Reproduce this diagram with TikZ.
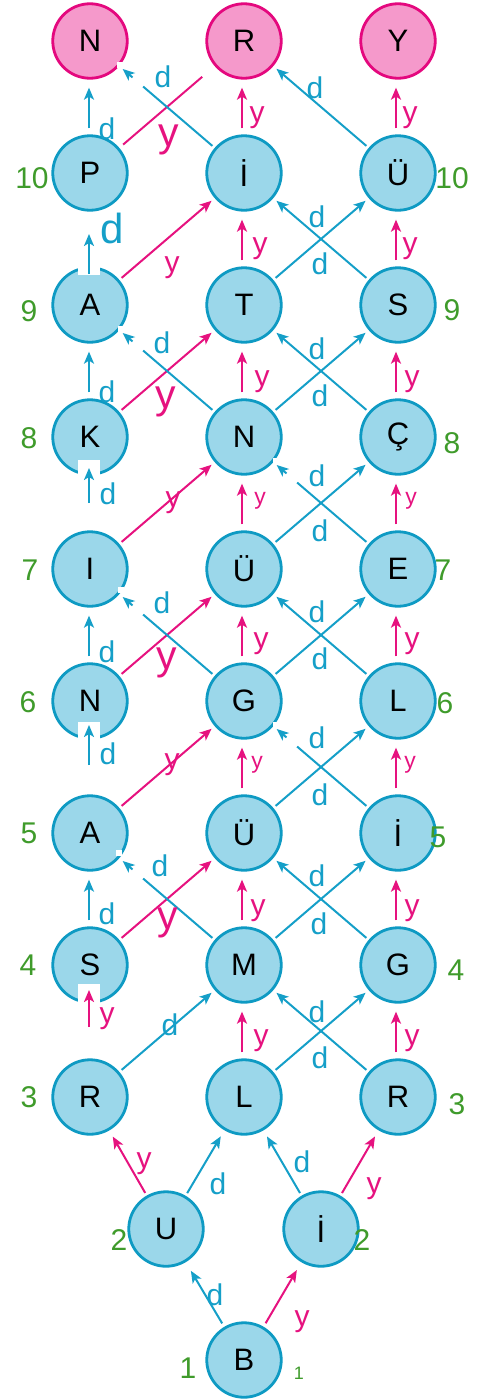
\documentclass[tikz,border=0pt]{standalone}
\usepackage{fontspec}
\setmainfont{Liberation Sans}
\usetikzlibrary{arrows.meta,calc}
\definecolor{nfill}{HTML}{9BD7EA}
\definecolor{nbord}{HTML}{0E9AC3}
\definecolor{pfill}{HTML}{F599CB}
\definecolor{pbord}{HTML}{E4087E}
\definecolor{barc}{HTML}{159FC8}
\definecolor{parc}{HTML}{E6127F}
\definecolor{grn}{HTML}{3F9B2B}
\begin{document}
\begin{tikzpicture}[x=1pt,y=-1pt,
 bnode/.style={circle, minimum size=74.5pt, inner sep=0pt, line width=2.8pt, draw=nbord, fill=nfill, font=\fontsize{31}{31}\selectfont},
 pnode/.style={bnode, draw=pbord, fill=pfill},
 barr/.style={draw=barc, line width=2pt, -{Stealth[length=12pt,width=10pt,inset=3pt]}},
 parr/.style={barr, draw=parc},
 bline/.style={draw=barc, line width=2pt},
 pline/.style={draw=parc, line width=2pt},
 vert/.style={shorten <=6pt, shorten >=8pt},
 diag/.style={shorten <=3pt, shorten >=4pt},
 lab/.style={inner sep=0pt, font=\fontsize{30}{30}\selectfont},
 labL/.style={inner sep=0pt, font=\fontsize{41}{41}\selectfont},
 labS/.style={inner sep=0pt, font=\fontsize{23}{23}\selectfont},
 dl/.style={lab, text=barc},
 yl/.style={lab, text=parc},
 num/.style={inner sep=0pt, text=grn, font=\fontsize{30}{30}\selectfont},
 notch/.style={fill=white, draw=none}
]
\useasboundingbox (0,0) rectangle (478,1400);
% nodes
\node[pnode] (L0) at (90,41) {N};
\node[pnode] (M0) at (244,41) {R};
\node[pnode] (R0) at (398,41) {Y};
\node[bnode] (L10) at (90,173) {P};
\node[bnode] (M10) at (244,173) {İ};
\node[bnode] (R10) at (398,173) {Ü};
\node[bnode] (L9) at (90,305) {A};
\node[bnode] (M9) at (244,305) {T};
\node[bnode] (R9) at (398,305) {S};
\node[bnode] (L8) at (90,437) {K};
\node[bnode] (M8) at (244,437) {N};
\node[bnode] (R8) at (398,437) {Ç};
\node[bnode] (L7) at (90,569) {I};
\node[bnode] (M7) at (244,569) {Ü};
\node[bnode] (R7) at (398,569) {E};
\node[bnode] (L6) at (90,701) {N};
\node[bnode] (M6) at (244,701) {G};
\node[bnode] (R6) at (398,701) {L};
\node[bnode] (L5) at (90,833) {A};
\node[bnode] (M5) at (244,833) {Ü};
\node[bnode] (R5) at (398,833) {İ};
\node[bnode] (L4) at (90,965) {S};
\node[bnode] (M4) at (244,965) {M};
\node[bnode] (R4) at (398,965) {G};
\node[bnode] (L3) at (90,1097) {R};
\node[bnode] (M3) at (244,1097) {L};
\node[bnode] (R3) at (398,1097) {R};
\node[bnode] (U2) at (166,1229) {U};
\node[bnode] (I2) at (321,1229) {İ};
\node[bnode] (B1) at (244,1360) {B};
% white notches
\fill[notch] (78,266) rectangle (100,275);
\fill[notch] (78,460) rectangle (100,477);
\fill[notch] (78,722) rectangle (100,741);
\fill[notch] (78,984) rectangle (100,1005);
\fill[notch] (117,62) rectangle (123,68);
\fill[notch] (118,326) rectangle (124,332);
\fill[notch] (118,587) rectangle (124,593);
\fill[notch] (116,850) rectangle (122,856);
\fill[notch] (273,458) rectangle (279,464);
\fill[notch] (273,722) rectangle (279,728);
% row 10 -> 0
\draw[barr,vert] ([xshift=-1pt]L10.north) -- ([xshift=-1pt]L0.south);
\draw[pline, shorten <=5pt] (L10) -- ($(M0.center)!55pt!(L10.center)$);
\draw[bline, shorten <=3pt] (M10) -- ($(L0.center)!70pt!(M10.center)$);
\draw[barr] ($(L0.center)!56pt!(M10.center)$) -- ($(L0.center)!43pt!(M10.center)$);
\draw[parr,vert] ([xshift=-2pt]M10.north) -- ([xshift=-2pt]M0.south);
\draw[barr,diag] (R10) -- (M0);
\draw[parr,vert] ([xshift=-2pt]R10.north) -- ([xshift=-2pt]R0.south);
% row 9 -> 10
\draw[barr] ($(L9.center)+(-1,-31)$) -- ($(L9.center)+(-1,-71)$);
\draw[parr,diag] (L9) -- (M10);
\draw[parr,vert] ([xshift=-2pt]M9.north) -- ([xshift=-2pt]M10.south);
\draw[barr,diag] (M9) -- (R10);
\draw[barr,diag] (R9) -- (M10);
\draw[parr,vert] ([xshift=-2pt]R9.north) -- ([xshift=-2pt]R10.south);
% row 8 -> 9
\draw[barr,vert] ([xshift=-1pt]L8.north) -- ([xshift=-1pt]L9.south);
\draw[parr,diag] (L8) -- (M9);
\draw[bline, shorten <=3pt] (M8) -- ($(L9.center)!70pt!(M8.center)$);
\draw[barr] ($(L9.center)!56pt!(M8.center)$) -- ($(L9.center)!43pt!(M8.center)$);
\draw[parr,vert] ([xshift=-2pt]M8.north) -- ([xshift=-2pt]M9.south);
\draw[barr,diag] (M8) -- (R9);
\draw[barr,diag] (R8) -- (M9);
\draw[parr,vert] ([xshift=-2pt]R8.north) -- ([xshift=-2pt]R9.south);
% row 7 -> 8
\draw[barr] ($(L7.center)+(-1,-66)$) -- ($(L7.center)+(-1,-101)$);
\draw[parr,diag] (L7) -- (M8);
\draw[parr,vert] ([xshift=-2pt]M7.north) -- ([xshift=-2pt]M8.south);
\draw[barr,diag] (M7) -- (R8);
\draw[bline, shorten <=3pt] (R7) -- ($(M8.center)!70pt!(R7.center)$);
\draw[barr] ($(M8.center)!56pt!(R7.center)$) -- ($(M8.center)!43pt!(R7.center)$);
\draw[parr,vert] ([xshift=-2pt]R7.north) -- ([xshift=-2pt]R8.south);
% row 6 -> 7
\draw[barr,vert] ([xshift=-1pt]L6.north) -- ([xshift=-1pt]L7.south);
\draw[parr,diag] (L6) -- (M7);
\draw[bline, shorten <=3pt] (M6) -- ($(L7.center)!70pt!(M6.center)$);
\draw[barr] ($(L7.center)!56pt!(M6.center)$) -- ($(L7.center)!43pt!(M6.center)$);
\draw[parr,vert] ([xshift=-2pt]M6.north) -- ([xshift=-2pt]M7.south);
\draw[barr,diag] (M6) -- (R7);
\draw[barr,diag] (R6) -- (M7);
\draw[parr,vert] ([xshift=-2pt]R6.north) -- ([xshift=-2pt]R7.south);
% row 5 -> 6
\draw[barr] ($(L5.center)+(-1,-68)$) -- ($(L5.center)+(-1,-108)$);
\draw[parr,diag] (L5) -- (M6);
\draw[parr,vert] ([xshift=-2pt]M5.north) -- ([xshift=-2pt]M6.south);
\draw[barr,diag] (M5) -- (R6);
\draw[bline, shorten <=3pt] (R5) -- ($(M6.center)!70pt!(R5.center)$);
\draw[barr] ($(M6.center)!56pt!(R5.center)$) -- ($(M6.center)!43pt!(R5.center)$);
\draw[parr,vert] ([xshift=-2pt]R5.north) -- ([xshift=-2pt]R6.south);
% row 4 -> 5
\draw[barr,vert] ([xshift=-1pt]L4.north) -- ([xshift=-1pt]L5.south);
\draw[parr,diag] (L4) -- (M5);
\draw[bline, shorten <=3pt] (M4) -- ($(L5.center)!70pt!(M4.center)$);
\draw[barr] ($(L5.center)!56pt!(M4.center)$) -- ($(L5.center)!43pt!(M4.center)$);
\draw[parr,vert] ([xshift=-2pt]M4.north) -- ([xshift=-2pt]M5.south);
\draw[barr,diag] (M4) -- (R5);
\draw[barr,diag] (R4) -- (M5);
\draw[parr,vert] ([xshift=-2pt]R4.north) -- ([xshift=-2pt]R5.south);
% row 3 -> 4
\draw[parr] ($(L3.center)+(-1,-70)$) -- ($(L3.center)+(-1,-107)$);
\draw[barr,diag] (L3) -- (M4);
\draw[parr,vert] ([xshift=-2pt]M3.north) -- ([xshift=-2pt]M4.south);
\draw[barr,diag] (M3) -- (R4);
\draw[barr,diag] (R3) -- (M4);
\draw[parr,vert] ([xshift=-2pt]R3.north) -- ([xshift=-2pt]R4.south);
% row 2 -> 3
\draw[parr, shorten <=3pt, shorten >=7pt] (U2) -- (L3);
\draw[barr, shorten <=3pt, shorten >=7pt] (U2) -- (M3);
\draw[barr, shorten <=3pt, shorten >=7pt] (I2) -- (M3);
\draw[parr, shorten <=3pt, shorten >=7pt] (I2) -- (R3);
% row 1 -> 2
\draw[barr, shorten <=4pt, shorten >=10pt] (B1) -- (U2);
\draw[parr, shorten <=4pt, shorten >=9pt] (B1) -- (I2);
% edge labels
\node[dl] (t1) at (107,129) {d};
\node[yl,labL,text=parc] (t2) at (169,140) {y};
\node[dl] (t3) at (163,77) {d};
\node[yl] (t4) at (257,118) {y};
\node[dl] (t5) at (315,88) {d};
\node[yl] (t6) at (410,118) {y};
\node[dl,font=\fontsize{42}{42}\selectfont] (t7) at (112,228) {d};
\node[yl] (t8) at (172,268) {y};
\node[yl] (t9) at (260,249) {y};
\node[dl] (t10) at (320,264) {d};
\node[dl] (t11) at (317,217) {d};
\node[yl] (t12) at (410,249) {y};
\node[dl] (t13) at (107,392) {d};
\node[yl,labL,text=parc] (t14) at (166,402) {y};
\node[dl] (t15) at (162,343) {d};
\node[yl] (t16) at (262,382) {y};
\node[dl] (t17) at (320,396) {d};
\node[dl] (t18) at (317,349) {d};
\node[yl] (t19) at (412,382) {y};
\node[dl] (t20) at (108,494) {d};
\node[yl] (t21) at (173,503) {y};
\node[labS,text=parc] (t22) at (260,501) {y};
\node[dl] (t23) at (320,531) {d};
\node[dl] (t24) at (317,476) {d};
\node[labS,text=parc] (t25) at (411,501) {y};
\node[dl] (t26) at (107,652) {d};
\node[yl,labL,text=parc] (t27) at (167,663) {y};
\node[dl] (t28) at (162,603) {d};
\node[yl] (t29) at (261,644) {y};
\node[dl] (t30) at (320,659) {d};
\node[dl] (t31) at (317,612) {d};
\node[yl] (t32) at (412,644) {y};
\node[dl] (t33) at (108,754) {d};
\node[yl] (t34) at (172,765) {y};
\node[labS,text=parc] (t35) at (257,765) {y};
\node[dl] (t36) at (320,795) {d};
\node[dl] (t37) at (317,738) {d};
\node[labS,text=parc] (t38) at (410,765) {y};
\node[dl] (t39) at (107,914) {d};
\node[yl,labL,text=parc] (t40) at (168,923) {y};
\node[dl] (t41) at (160,866) {d};
\node[yl] (t42) at (258,911) {y};
\node[dl] (t43) at (319,924) {d};
\node[dl] (t44) at (317,876) {d};
\node[yl] (t45) at (412,911) {y};
\node[yl] (t46) at (107,1019) {y};
\node[dl] (t47) at (170,1025) {d};
\node[yl] (t48) at (261,1041) {y};
\node[dl] (t49) at (320,1058) {d};
\node[dl] (t50) at (317,1012) {d};
\node[yl] (t51) at (412,1041) {y};
\node[yl] (t52) at (144,1164) {y};
\node[dl] (t53) at (218,1184) {d};
\node[dl] (t54) at (302,1162) {d};
\node[yl] (t55) at (374,1189) {y};
\node[dl] (t56) at (215,1295) {d};
\node[yl] (t57) at (302,1322) {y};
% level numbers
\node[num] (g10a) at (32,178) {10};
\node[num] (g10b) at (452,178) {10};
\node[num] (g9a) at (29,311) {9};
\node[num] (g9b) at (452,310) {9};
\node[num] (g8a) at (29,438) {8};
\node[num] (g8b) at (452,443) {8};
\node[num] (g7a) at (30,570) {7};
\node[num] (g7b) at (443,570) {7};
\node[num] (g6a) at (28,702) {6};
\node[num] (g6b) at (445,703) {6};
\node[num] (g5a) at (29,833) {5};
\node[num] (g5b) at (438,837) {5};
\node[num] (g4a) at (28,965) {4};
\node[num] (g4b) at (456,970) {4};
\node[num] (g3a) at (29,1097) {3};
\node[num] (g3b) at (457,1104) {3};
\node[num] (g2a) at (119,1240) {2};
\node[num] (g2b) at (362,1240) {2};
\node[num] (g1a) at (188,1368) {1};
\node[num,font=\fontsize{18}{18}\selectfont] (g1b) at (299,1373) {1};
\end{tikzpicture}
\end{document}
